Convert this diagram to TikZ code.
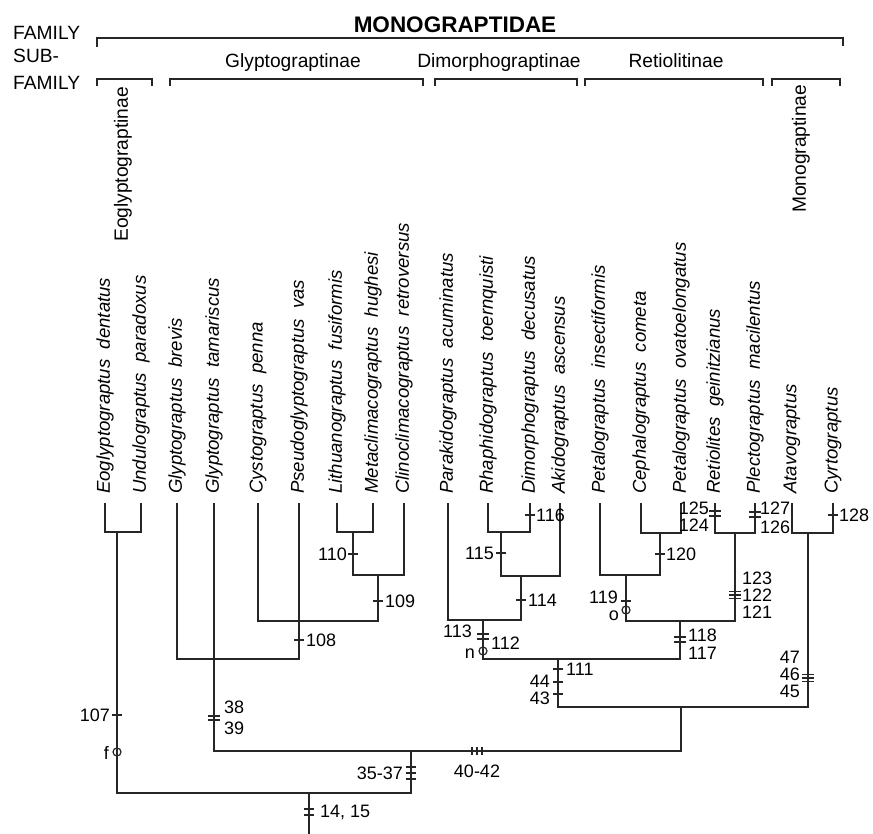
\documentclass[tikz,border=0pt]{standalone}
\usepackage{fontspec}
\setmainfont{Liberation Sans}
\newcommand\hmk[3]{\draw[tk] ({#1-#3},#2) -- ({#1+#3},#2);}
\newcommand\vmk[3]{\draw[tk] (#1,{#2-#3}) -- (#1,{#2+#3});}
\begin{document}
\begin{tikzpicture}[x=1pt,y=-1pt,
  ln/.style={line width=1.3pt, draw=black!85},
  tk/.style={line width=1.2pt, draw=black!85},
  sp/.style={rotate=90, anchor=west, inner sep=0pt, font=\fontsize{18.6}{20}\selectfont\itshape},
  sub/.style={inner sep=0pt, font=\fontsize{19.2}{21}\selectfont},
  subr/.style={sub, rotate=90, anchor=west},
  num/.style={inner sep=0pt, font=\fontsize{18}{19}\selectfont},
  ttl/.style={inner sep=0pt, font=\fontsize{22.5}{24}\selectfont\bfseries},
  ring/.style={circle, draw=black!85, line width=1.2pt, minimum size=8pt, inner sep=0pt}
]
\fill[white] (0,0) rectangle (873,834);
\useasboundingbox (0,0) rectangle (873,834);

% headers
\node[ttl, anchor=base] (title) at (455,33) {MONOGRAPTIDAE};
\node[sub, anchor=base west] (fam) at (13,40) {FAMILY};
\node[sub, anchor=base west] (sub1) at (13,63) {SUB-};
\node[sub, anchor=base west] (sub2) at (13,90) {FAMILY};
\draw[ln] (97,47) |- (843,38) -- (843,46);
\draw[ln] (97,86) |- (152,79) -- (152,86);
\draw[ln] (170,86) |- (423,79) -- (423,86);
\draw[ln] (435,86) |- (577,79) -- (577,86);
\draw[ln] (585,86) |- (763,79) -- (763,86);
\draw[ln] (772,86) |- (840,79) -- (840,86);
\node[sub, anchor=base] (sfG) at (293,68) {Glyptograptinae};
\node[sub, anchor=base] (sfD) at (499,68) {Dimorphograptinae};
\node[sub, anchor=base] (sfR) at (676,68) {Retiolitinae};
\node[subr] (sfE) at (123,242) {Eoglyptograptinae};
\node[subr] (sfM) at (801,213) {Monograptinae};

% species
\foreach \i/\x/\t in {1/105/Eoglyptograptus\ \ dentatus, 2/141/Undulograptus\ \ paradoxus,
  3/177/Glyptograptus\ \ brevis, 4/214/Glyptograptus\ \ tamariscus, 5/258/Cystograptus\ \ penna,
  6/299/Pseudoglyptograptus\ \ vas, 7/337/Lithuanograptus\ \ fusiformis,
  8/373/Metaclimacograptus\ \ hughesi, 9/404/Clinoclimacograptus\ \ retroversus,
  10/448/Parakidograptus\ \ acuminatus, 11/488/Rhaphidograptus\ \ toernquisti,
  12/530/Dimorphograptus\ \ decusatus, 13/560/Akidograptus\ \ ascensus,
  14/600/Petalograptus\ \ insectiformis, 15/641/Cephalograptus\ \ cometa,
  16/681/Petalograptus\ \ ovatoelongatus, 17/715/Retiolites\ \ geinitzianus,
  18/755/Plectograptus\ \ macilentus, 19/792/Atavograptus, 20/833/Cyrtograptus}
{
  \node[sp] (s\i) at (\x,494) {\t};
  \coordinate (t\i) at (\x,503);
}

% junction coordinates
\coordinate (j1) at (117,532);
\coordinate (k1) at (117,793);
\coordinate (k2) at (411,751);
\coordinate (r0) at (309,793);
\coordinate (rb) at (309,834);
\coordinate (k3) at (681,751);
\coordinate (k4) at (681,707);
\coordinate (j20) at (299,659);
\coordinate (j21) at (378,621);
\coordinate (j22) at (378,575);
\coordinate (j23) at (353,532);
\coordinate (j24) at (353,575);
\coordinate (j5) at (501,532);
\coordinate (j6) at (501,576);
\coordinate (j7) at (521,620);
\coordinate (j7b) at (521,576);
\coordinate (j12) at (483,620);
\coordinate (j13) at (483,659);
\coordinate (j14) at (680,621);
\coordinate (j15) at (660,533);
\coordinate (j16) at (660,575);
\coordinate (j17) at (626,575);
\coordinate (j18) at (626,621);
\coordinate (j19) at (735,533);
\coordinate (j9) at (808,533);
\coordinate (j10) at (558,707);
\coordinate (j11) at (558,659);

% circles
\node[ring] (cf) at (117,752) {};
\node[ring] (cn) at (483,651) {};
\node[ring] (co) at (626,610) {};

% tree
\draw[ln] (t1) |- (j1) -| (t2);
\draw[ln] (j1) -- (k1) -| (k2);
\draw[ln] (r0) -- (rb);
\draw[ln] (t4) |- (k3) -- (k4);
\draw[ln] (t3) |- (j20) -- (t6);
\draw[ln] (t5) |- (j21) -- (j22);
\draw[ln] (t7) |- (j23) -| (t8);
\draw[ln] (j23) -- (j24) -| (t9);
\draw[ln] (t11) |- (j5) -| (t12);
\draw[ln] (j5) -- (j6) -| (t13);
\draw[ln] (t10) |- (j7) -- (j7b);
\draw[ln] (j12) -- (j13) -| (j14);
\draw[ln] (t15) |- (j15) -| (t16);
\draw[ln] (t14) |- (j16) -- (j15);
\draw[ln] (j17) -- (j18) -| (j19);
\draw[ln] (t17) |- (j19) -| (t18);
\draw[ln] (t19) |- (j9) -| (t20);
\draw[ln] (j9) |- (j10) -- (j11);

% marks
\hmk{117}{715}{5}
\node[num, anchor=east] (n107) at (110,715) {107};
\node[num, anchor=east] (nf) at (109,753) {f};
\hmk{214}{716}{6}\hmk{214}{720}{6}
\node[num, anchor=west] (n38) at (224,707) {38};
\node[num, anchor=west] (n39) at (224,728) {39};
\hmk{411}{767}{5}\hmk{411}{773}{5}\hmk{411}{779}{5}
\node[num, anchor=east] (n35) at (403,773) {35-37};
\vmk{472}{751}{4}\vmk{477}{751}{4}\vmk{482}{751}{4}
\node[num] (n40) at (477,771) {40-42};
\hmk{309}{809}{5}\hmk{309}{815}{5}
\node[num, anchor=west] (n14) at (320,812) {14,\ 15};
\hmk{299}{640}{5}
\node[num, anchor=west] (n108) at (306,640) {108};
\hmk{378}{601}{5}
\node[num, anchor=west] (n109) at (385,601) {109};
\hmk{353}{554}{5}
\node[num, anchor=east] (n110) at (347,554) {110};
\hmk{501}{553}{5}
\node[num, anchor=east] (n115) at (494,553) {115};
\hmk{530}{515}{5}
\node[num, anchor=west] (n116) at (536,515) {116};
\hmk{521}{600}{5}
\node[num, anchor=west] (n114) at (528,600) {114};
\hmk{483}{634}{6}\hmk{483}{639}{6}
\node[num, anchor=east] (n113) at (472,631) {113};
\node[num, anchor=west] (n112) at (491,643) {112};
\node[num, anchor=east] (nn) at (475,654) {n};
\hmk{680}{637}{6}\hmk{680}{642}{6}
\node[num, anchor=west] (n118) at (688,635) {118};
\node[num, anchor=west] (n117) at (688,653) {117};
\hmk{626}{601}{5}
\node[num, anchor=east] (n119) at (618,597) {119};
\node[num, anchor=east] (no) at (619,616) {o};
\hmk{660}{554}{5}
\node[num, anchor=west] (n120) at (666,554) {120};
\hmk{735}{591.5}{6}\hmk{735}{595}{6}\hmk{735}{598.5}{6}
\node[num, anchor=west] (n123) at (742,578) {123};
\node[num, anchor=west] (n122) at (742,595) {122};
\node[num, anchor=west] (n121) at (742,612) {121};
\hmk{715}{511}{6}\hmk{715}{516}{6}
\node[num, anchor=east] (n125) at (709,508) {125};
\node[num, anchor=east] (n124) at (709,525) {124};
\hmk{755}{512}{6}\hmk{755}{517}{6}
\node[num, anchor=west] (n127) at (760,508) {127};
\node[num, anchor=west] (n126) at (760,527) {126};
\hmk{833}{515}{5}
\node[num, anchor=west] (n128) at (839,515) {128};
\hmk{558}{669}{5}
\node[num, anchor=west] (n111) at (566,669) {111};
\hmk{558}{682}{5}
\node[num, anchor=east] (n44) at (550,681) {44};
\hmk{558}{694}{5}
\node[num, anchor=east] (n43) at (550,698) {43};
\hmk{808}{674.5}{6}\hmk{808}{678}{6}\hmk{808}{681.5}{6}
\node[num, anchor=east] (n47) at (800,657) {47};
\node[num, anchor=east] (n46) at (800,674) {46};
\node[num, anchor=east] (n45) at (800,691) {45};
\end{tikzpicture}
\end{document}
